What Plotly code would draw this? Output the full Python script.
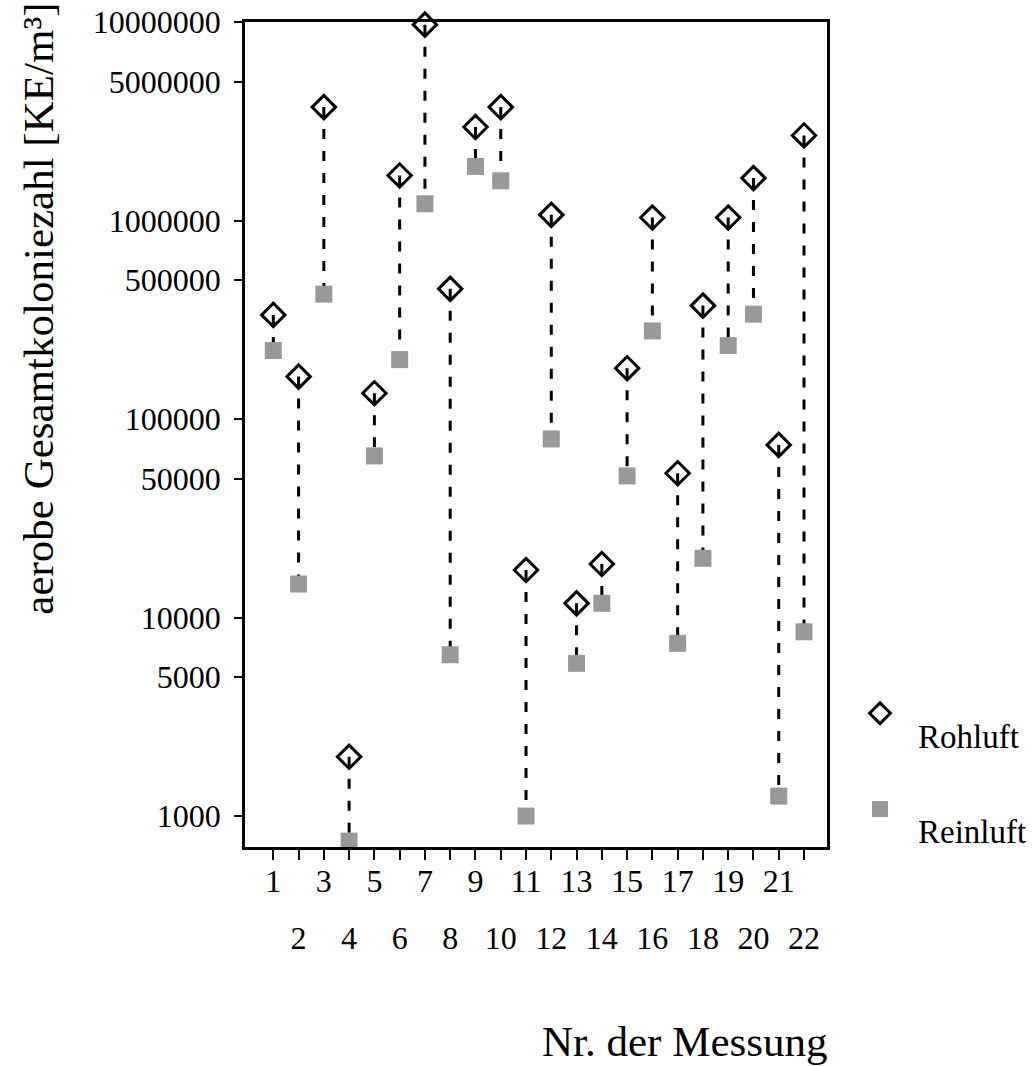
import plotly.graph_objects as go

# ---- data ----
messung = list(range(1, 23))
rohluft = [334600, 163600, 3728000, 1988, 134900, 1686000, 9700000, 452600,
           2957000, 3728000, 17350, 1068000, 11790, 18600, 180300, 1035000,
           53300, 372800, 1035000, 1636000, 74050, 2682000]
reinluft = [221200, 14750, 425600, 747, 65160, 199200, 1214000, 6494,
            1872000, 1585000, 1000, 79350, 5876, 11790, 51680, 277900,
            7413, 19880, 234400, 337500, 1260, 8480]
y_tickvals = [1000, 5000, 10000, 50000, 100000, 500000, 1000000, 5000000, 10000000]
y_ticktext = ["1000", "5000", "10000", "50000", "100000", "500000",
              "1000000", "5000000", "10000000"]
odd_labels = [str(m) if m % 2 == 1 else "" for m in messung]
even_vals = [m for m in messung if m % 2 == 0]
even_labels = [str(m) for m in even_vals]

FONT = "Liberation Serif"

# connector lines (Rohluft -> Reinluft)
lx, ly = [], []
for m, r, c in zip(messung, rohluft, reinluft):
    lx += [m, m, None]
    ly += [r, c, None]

fig = go.Figure()
fig.add_trace(go.Scatter(
    x=lx, y=ly, mode="lines", showlegend=False, hoverinfo="skip",
    line=dict(color="black", width=3, dash="10px,12px"), cliponaxis=False))
fig.add_trace(go.Scatter(
    x=messung, y=rohluft, mode="markers", name=" <br>Rohluft",
    xaxis="x2", legendgroup="a", cliponaxis=False,
    marker=dict(symbol="diamond-open", size=18, color="black",
                line=dict(width=3, color="black"))))
fig.add_trace(go.Scatter(
    x=messung, y=reinluft, mode="markers", name=" <br>Reinluft",
    xaxis="x2", legendgroup="b", cliponaxis=False,
    marker=dict(symbol="square", size=17, color="#999999",
                line=dict(width=0))))

xr = [-0.12, 22.91]
fig.update_layout(
    template="none",
    width=1032, height=1066,
    margin=dict(l=245, r=205, t=22, b=219, autoexpand=False),
    paper_bgcolor="white", plot_bgcolor="white",
    font=dict(family=FONT, size=32, color="black"),
    showlegend=True,
    legend=dict(x=1.0258, y=0.222, xanchor="left", yanchor="top",
                font=dict(family=FONT, size=33, color="black"),
                traceorder="grouped", tracegroupgap=7,
                bgcolor="rgba(0,0,0,0)", itemwidth=66),
    xaxis=dict(range=xr, tickmode="array", tickvals=messung, ticktext=odd_labels,
               ticks="outside", ticklen=10, tickwidth=2, tickcolor="black",
               showline=True, linewidth=2.5, linecolor="black", mirror=True,
               showgrid=False, zeroline=False, automargin=False,
               ticklabelstandoff=-6,
               tickfont=dict(family=FONT, size=32, color="black")),
    xaxis2=dict(range=xr, overlaying="x", side="bottom", anchor="y",
                tickmode="array", tickvals=even_vals, ticktext=even_labels,
                ticks="", showline=False, showgrid=False, zeroline=False,
                automargin=False, ticklabelstandoff=69,
                tickfont=dict(family=FONT, size=32, color="black")),
    yaxis=dict(type="log", range=[2.844, 7.0], tickmode="array",
               tickvals=y_tickvals, ticktext=y_ticktext,
               ticks="outside", ticklen=8, tickwidth=2, tickcolor="black",
               showline=True, linewidth=2.5, linecolor="black", mirror=True,
               showgrid=False, zeroline=False, ticklabelstandoff=7,
               automargin=False,
               tickfont=dict(family=FONT, size=32, color="black")),
    annotations=[
        dict(text="aerobe Gesamtkoloniezahl [KE/m³]", xref="paper", yref="paper",
             x=-0.355, y=0.653, xanchor="center", yanchor="middle",
             textangle=-90, showarrow=False,
             font=dict(family=FONT, size=43, color="black")),
        dict(text="Nr. der Messung", xref="paper", yref="paper",
             x=0.756, y=-0.236, xanchor="center", yanchor="middle",
             showarrow=False, font=dict(family=FONT, size=43, color="black")),
    ],
)

fig.write_html("out.html", config={"displayModeBar": False},
               post_script="document.body.style.margin='0';")
